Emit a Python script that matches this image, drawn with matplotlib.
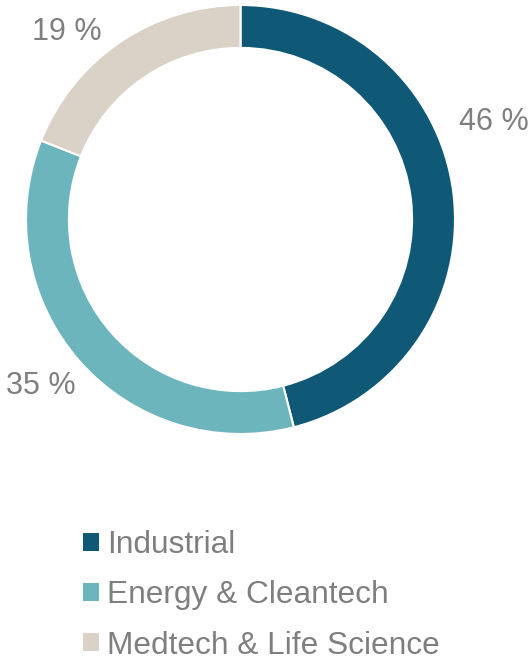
import matplotlib as mpl
mpl.use('agg')
from matplotlib import pyplot as plt
from matplotlib.patches import Patch

categories = ['Industrial', 'Energy & Cleantech', 'Medtech & Life Science']
shares = [46, 35, 19]
colors = ['#0F5876', '#6DB5BC', '#DAD2C6']

plt.rcParams['font.family'] = ['Liberation Sans', 'DejaVu Sans']
grey = '#7F7F7F'

W, H = 531, 657
fig = plt.figure(figsize=(W / 100, H / 100), dpi=100)

# ring centre and radius in pixels
cx, cy, R = 240.5, 219.5, 214.5
ax = fig.add_axes([(cx - R) / W, (H - cy - R) / H, 2 * R / W, 2 * R / H])

wedges, texts, autotexts = ax.pie(
    shares, colors=colors, startangle=90, counterclock=False, radius=1,
    autopct='%.0f %%', pctdistance=1.2,
    wedgeprops=dict(width=0.2, edgecolor='white', linewidth=1.5),
    textprops=dict(color=grey, fontsize=22))
ax.set_xlim(-1, 1)
ax.set_ylim(-1, 1)
ax.set_aspect('equal')
ax.axis('off')

# label spots (data units, radius = 1)
label_pos = [(1.18, 0.455), (-0.93, -0.775), (-0.81, 0.875)]
for t, p in zip(autotexts, label_pos):
    t.set_position(p)
    t.set_ha('center')
    t.set_va('center')

handles = [Patch(facecolor=c, edgecolor='none') for c in colors]
fig.legend(handles, categories, loc='upper left',
           bbox_to_anchor=(83 / W, 1 - 530 / H), frameon=False,
           borderpad=0, borderaxespad=0, fontsize=22.8,
           handlelength=0.5, handleheight=0.5, handletextpad=0.25,
           labelspacing=0.64, labelcolor=grey)

plt.savefig('out.png', dpi=100)
